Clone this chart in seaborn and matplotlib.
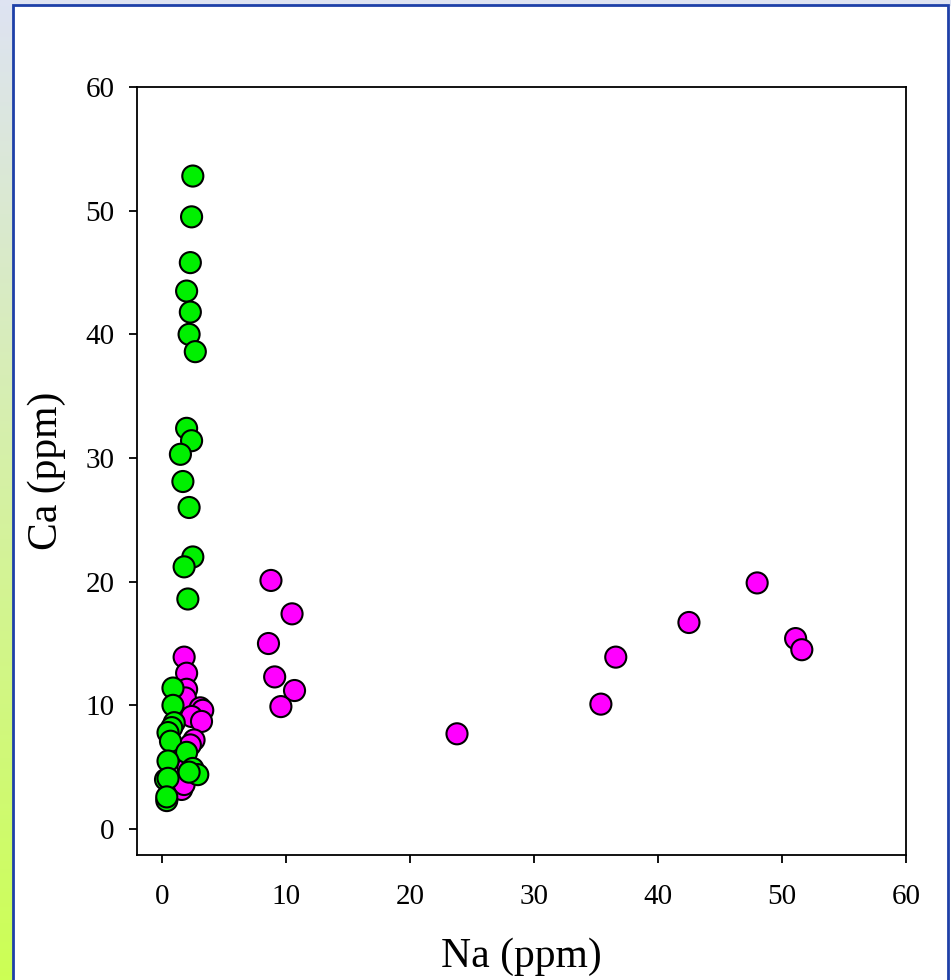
import matplotlib

matplotlib.use("Agg")
import matplotlib.pyplot as plt
from matplotlib.patches import Rectangle
import numpy as np
import pandas as pd
import seaborn as sns


# magenta group (drawn first, underneath)
magenta_na = [1.8, 2.0, 2.0, 1.9, 3.1, 3.3, 2.4, 3.2, 2.6, 2.3, 1.6, 1.8, 2.1,
              8.8, 8.6, 10.5, 9.1, 10.7, 9.6, 23.8, 35.4, 36.6, 42.5, 48.0, 51.1, 51.6]
magenta_ca = [13.9, 12.6, 11.3, 10.6, 9.8, 9.6, 9.1, 8.7, 7.2, 6.8, 3.2, 3.6, 5.0,
              20.1, 15.0, 17.4, 12.3, 11.2, 9.9, 7.7, 10.1, 13.9, 16.7, 19.9, 15.4, 14.5]

# green group
green_na = [2.5, 2.4, 2.3, 2.0, 2.3, 2.2, 2.7, 2.0, 2.4, 1.5, 1.7, 2.2, 2.5, 1.8, 2.1,
            0.9, 0.9, 1.0, 0.8, 0.5, 0.7, 2.0, 0.5, 2.5, 2.9, 2.2, 0.3, 0.5, 0.4, 0.4]
green_ca = [52.8, 49.5, 45.8, 43.5, 41.8, 40.0, 38.6, 32.4, 31.4, 30.3, 28.1, 26.0, 22.0, 21.2, 18.6,
            11.4, 10.0, 8.6, 8.2, 7.8, 7.1, 6.2, 5.5, 4.9, 4.4, 4.6, 4.0, 4.1, 2.3, 2.6]

ticks = [0, 10, 20, 30, 40, 50, 60]


def main() -> None:
    sns.set_style("ticks")
    plt.rcParams["font.family"] = ["Liberation Serif", "DejaVu Serif"]

    df = pd.concat([
        pd.DataFrame({"na": magenta_na, "ca": magenta_ca, "group": "magenta"}),
        pd.DataFrame({"na": green_na, "ca": green_ca, "group": "green"}),
    ], ignore_index=True)

    fig = plt.figure(figsize=(9.51, 9.8), dpi=100)

    # slide-like background: gradient strip on the left, blue frame
    bg = fig.add_axes([0, 0, 1, 1])
    bg.set_axis_off()
    bg.set_xlim(0, 951)
    bg.set_ylim(980, 0)
    top_col = np.array([0.87, 0.89, 0.95])
    bot_col = np.array([0.80, 1.00, 0.33])
    t = np.linspace(0, 1, 256)[:, None, None]
    grad = top_col * (1 - t) + bot_col * t
    bg.imshow(grad, extent=[0, 13, 980, 0], aspect="auto", zorder=0)
    bg.add_patch(Rectangle((0, 0), 951, 5, color=top_col, zorder=0))
    bg.add_patch(Rectangle((13, 5), 935, 980, facecolor="white",
                           edgecolor="#1e40a8", linewidth=2, zorder=1))

    ax = fig.add_axes([137 / 951, 125 / 980, 769 / 951, 768 / 980])
    ax.set_facecolor("none")
    sns.scatterplot(
        data=df, x="na", y="ca", hue="group",
        palette={"magenta": "#ff00ff", "green": "#00f000"},
        s=230, edgecolor="black", linewidth=1.5, legend=False, ax=ax, zorder=3,
    )
    ax.set_xlim(-2, 60)
    ax.set_ylim(-2.1, 60)
    ax.set_xticks(ticks)
    ax.set_yticks(ticks)
    for side in ["top", "right", "left", "bottom"]:
        ax.spines[side].set_visible(True)
        ax.spines[side].set_linewidth(1.3)
        ax.spines[side].set_color("black")
    ax.tick_params(axis="both", direction="out", length=6, width=1.3,
                   labelsize=21, colors="black")
    ax.tick_params(axis="x", pad=15)
    ax.tick_params(axis="y", pad=10)
    ax.set_xlabel("Na (ppm)", fontsize=30, labelpad=20, color="black")
    ax.set_ylabel("Ca (ppm)", fontsize=30, labelpad=14, color="black")

    fig.savefig("out.png", dpi=100)
    plt.close(fig)


if __name__ == "__main__":
    main()
